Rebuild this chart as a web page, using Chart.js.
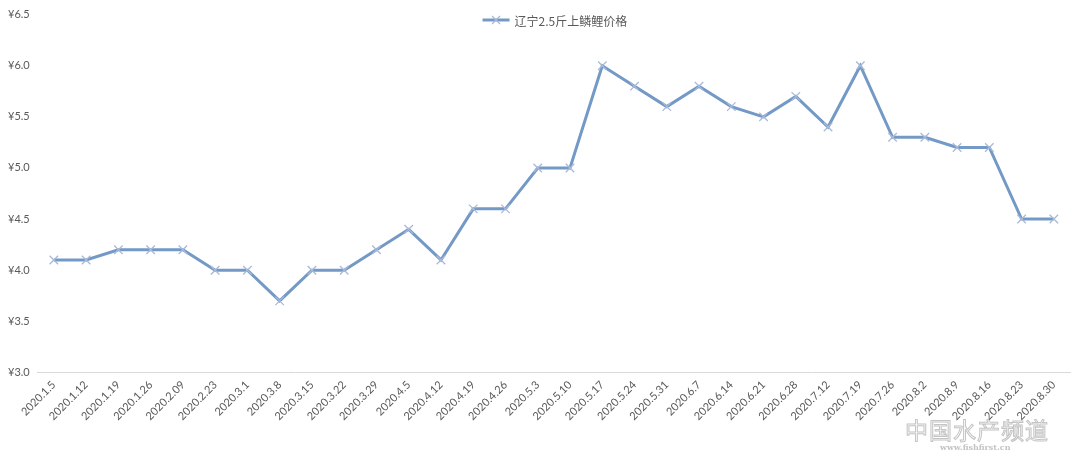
<!DOCTYPE html>
<html><head><meta charset="utf-8">
<script src="https://cdn.jsdelivr.net/npm/chart.js@4/dist/chart.umd.min.js"></script>
<style>
html,body{margin:0;padding:0;background:#fff;}
#wrap{position:relative;width:1080px;height:457px;}
#wm{position:absolute;left:905px;top:412px;font-family:"Noto Sans CJK SC";font-size:23px;color:#fff;-webkit-text-stroke:1px #c4c4c4;letter-spacing:1px;}
#wm2{position:absolute;left:940px;top:442px;font-family:"DejaVu Serif";font-size:8px;color:#c4c4c4;font-weight:bold;}
</style></head><body>
<div id="wrap"><canvas id="c" width="1080" height="457"></canvas>
<div id="wm">中国水产频道</div><div id="wm2">www.fishfirst.cn</div></div>
<script>
const categories = ["2020.1.5","2020.1.12","2020.1.19","2020.1.26","2020.2.09","2020.2.23","2020.3.1","2020.3.8","2020.3.15","2020.3.22","2020.3.29","2020.4.5","2020.4.12","2020.4.19","2020.4.26","2020.5.3","2020.5.10","2020.5.17","2020.5.24","2020.5.31","2020.6.7","2020.6.14","2020.6.21","2020.6.28","2020.7.12","2020.7.19","2020.7.26","2020.8.2","2020.8.9","2020.8.16","2020.8.23","2020.8.30"];
const prices = [4.1,4.1,4.2,4.2,4.2,4.0,4.0,3.7,4.0,4.0,4.2,4.4,4.1,4.6,4.6,5.0,5.0,6.0,5.8,5.6,5.8,5.6,5.5,5.7,5.4,6.0,5.3,5.3,5.2,5.2,4.5,4.5];
const seriesName = "辽宁2.5斤上鳞鲤价格";
const yMin = 3.0, yMax = 6.5, yStep = 0.5;

const lineColor = "#7399c6", markColor = "#a9b9d8";

const topLegend = {
  id: 'topLegend',
  afterDraw(chart) {
    const ctx = chart.ctx, a = chart.chartArea;
    const label = chart.data.datasets[0].label;
    ctx.save();
    ctx.font = '12px "Noto Sans CJK SC", Lato';
    const tw = ctx.measureText(label).width;
    const symW = 27, gap = 5;
    const total = symW + gap + tw;
    const x0 = (a.left + a.right) / 2 - total / 2 + 1;
    const y = 20;
    ctx.strokeStyle = lineColor; ctx.lineWidth = 3;
    ctx.beginPath(); ctx.moveTo(x0, y); ctx.lineTo(x0 + symW, y); ctx.stroke();
    const cx = x0 + symW / 2;
    ctx.strokeStyle = markColor; ctx.lineWidth = 1.3;
    ctx.beginPath(); ctx.moveTo(cx - 4, y - 4); ctx.lineTo(cx + 4, y + 4);
    ctx.moveTo(cx + 4, y - 4); ctx.lineTo(cx - 4, y + 4); ctx.stroke();
    ctx.fillStyle = '#595959'; ctx.textBaseline = 'middle'; ctx.textAlign = 'left';
    ctx.fillText(label, x0 + symW + gap, y + 1);
    ctx.restore();
  }
};

new Chart(document.getElementById('c'), {
  type: 'line',
  data: { labels: categories, datasets: [{
    label: seriesName, data: prices,
    borderColor: lineColor, borderWidth: 3, tension: 0,
    pointStyle: 'crossRot', pointRadius: 6, pointBorderColor: markColor, pointBorderWidth: 1.3,
    pointBackgroundColor: markColor
  }]},
  options: {
    responsive: false, animation: false,
    layout: { padding: { left: 0, right: 10, top: 1, bottom: 28 } },
    plugins: { legend: { display: false }, tooltip: { enabled: false } },
    scales: {
      x: { offset: true, grid: { display: false, drawTicks: false },
        border: { display: true, color: '#d9d9d9', width: 1 },
        ticks: { minRotation: 45, maxRotation: 45, autoSkip: false, color: '#595959', padding: 6,
          font: { family: 'Lato, "Open Sans"', size: 11 } } },
      y: { min: yMin, max: yMax, grid: { display: false, drawTicks: false }, border: { display: false },
        ticks: { stepSize: yStep, color: '#595959', padding: 8,
          font: { family: 'Lato, "Noto Sans"', size: 11 },
          callback: v => '¥' + v.toFixed(1) } }
    }
  },
  plugins: [topLegend]
});
</script></body></html>
